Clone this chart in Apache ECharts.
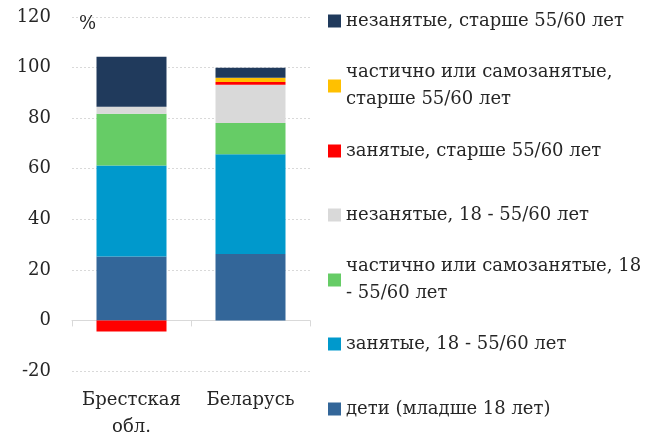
<!DOCTYPE html>
<html>
<head>
<meta charset="utf-8">
<script src="https://cdn.jsdelivr.net/npm/echarts@6/dist/echarts.min.js"></script>
<style>
  html, body { margin: 0; padding: 0; background: #fff; }
  #chart { width: 657px; height: 441px; }
</style>
</head>
<body>
<div id="chart"></div>
<script>
const categories = ['Брестская\nобл.', 'Беларусь'];

// bottom to top of stack
const seriesNames = [
  'дети (младше 18 лет)',
  'занятые, 18 - 55/60 лет',
  'частично или самозанятые, 18 - 55/60 лет',
  'незанятые, 18 - 55/60 лет',
  'занятые, старше 55/60 лет',
  'частично или самозанятые, старше 55/60 лет',
  'незанятые, старше 55/60 лет'
];
const legendLabels = [
  'дети (младше 18 лет)',
  'занятые, 18 - 55/60 лет',
  'частично или самозанятые, 18\n- 55/60 лет',
  'незанятые, 18 - 55/60 лет',
  'занятые, старше 55/60 лет',
  'частично или самозанятые,\nстарше 55/60 лет',
  'незанятые, старше 55/60 лет'
];
const colors = ['#336699', '#0099CC', '#66CC66', '#D9D9D9', '#FF0000', '#FFC000', '#203A5C'];

const children = [25.3, 26.3];
const employedWork = [36.0, 39.4];
const partialWork = [20.4, 12.4];
const unemployedWork = [2.8, 15.1];
const employedOld = [-4.4, 1.1];
const partialOld = [0, 1.7];
const unemployedOld = [19.8, 3.9];
const values = [children, employedWork, partialWork, unemployedWork, employedOld, partialOld, unemployedOld];

const yTicks = [-20, 0, 20, 40, 60, 80, 100, 120];

const font = '"DejaVu Serif", "Liberation Serif", serif';
const textColor = '#262626';
const fontSize = 18;

// legend rows, top to bottom, first-line centre y
const legendRowY = [409, 344, 280, 215, 151, 86, 21];

const legends = seriesNames.map((name, i) => {
  const twoLine = legendLabels[i].indexOf('\n') >= 0;
  return {
    data: [name],
    left: 328,
    top: legendRowY[i] - (twoLine ? 40.5 : 13.5),
    padding: 0,
    itemWidth: 13,
    itemHeight: 13,
    itemGap: 6,
    icon: 'rect',
    selectedMode: false,
    formatter: () => legendLabels[i],
    textStyle: {
      fontFamily: font,
      fontSize: fontSize,
      color: textColor,
      lineHeight: 27,
      padding: twoLine ? [27, 0, 0, 0] : 0
    }
  };
});

const myChart = echarts.init(document.querySelector('#chart'));

myChart.setOption({
  animation: false,
  color: colors,
  legend: legends,
  grid: { left: 72, right: 347, top: 17, bottom: 67 },
  xAxis: [
    {
      type: 'category',
      data: categories,
      position: 'bottom',
      axisLine: { show: false, onZero: false },
      axisTick: { show: false },
      axisLabel: {
        interval: 0,
        fontFamily: font,
        fontSize: fontSize,
        color: textColor,
        lineHeight: 27,
        margin: 16
      }
    },
    {
      type: 'category',
      data: categories,
      position: 'bottom',
      axisLine: { show: true, onZero: true, lineStyle: { color: '#D9D9D9', width: 1 } },
      axisTick: { show: true, length: 6, interval: 0, lineStyle: { color: '#D9D9D9' } },
      axisLabel: { show: false }
    }
  ],
  yAxis: {
    type: 'value',
    min: yTicks[0],
    max: yTicks[yTicks.length - 1],
    interval: 20,
    name: '%',
    nameLocation: 'end',
    nameGap: -16,
    nameTextStyle: {
      fontFamily: font,
      fontSize: fontSize,
      color: textColor,
      align: 'left',
      padding: [0, 0, 0, 7]
    },
    axisLine: { show: false },
    axisTick: { show: false },
    axisLabel: {
      fontFamily: font,
      fontSize: fontSize,
      color: textColor,
      margin: 21
    },
    splitLine: { lineStyle: { color: '#D9D9D9', type: [2, 2], width: 1 } }
  },
  series: seriesNames.map((name, i) => ({
    name: name,
    type: 'bar',
    stack: 'total',
    xAxisIndex: 0,
    barWidth: 70,
    data: values[i],
    itemStyle: { color: colors[i] }
  }))
});
</script>
</body>
</html>
